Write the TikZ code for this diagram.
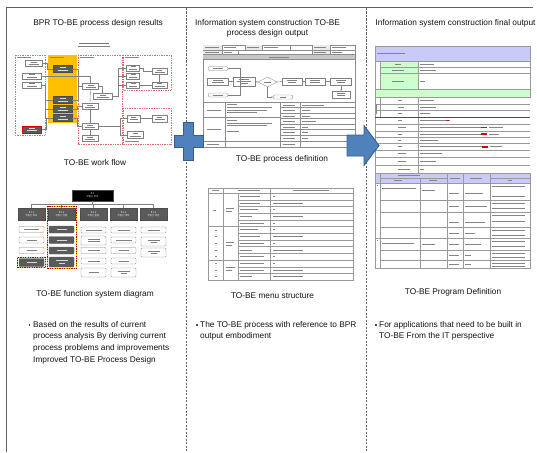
\documentclass[tikz,border=0pt]{standalone}
\usepackage{fontspec}
\setmainfont{Liberation Sans}
\newfontfamily\krfont{Noto Sans CJK KR}
\usetikzlibrary{shapes.geometric,arrows.meta}
\definecolor{bluefill}{HTML}{4F81BD}
\definecolor{blueedge}{HTML}{385D8A}
\definecolor{orng}{HTML}{FFC000}
\definecolor{redd}{HTML}{E46C6C}
\definecolor{darkbox}{HTML}{5A5A5A}
\definecolor{lav}{HTML}{C9C9FA}
\definecolor{mint}{HTML}{CCFFCC}
% a short grey stroke standing for tiny, blurred text inside the thumbnails
\newcommand\tln[2][black!50]{\textcolor{#1}{\rule{#2pt}{0.8pt}}}
\newcommand\tbar[3]{\draw[txt] (#1,#2) -- ++(#3,0);}
\tikzset{
  frameline/.style={draw=black!62, line width=1.4pt},
  divider/.style={draw=black!62, line width=0.6pt, dash pattern=on 2.2pt off 1.3pt},
  captext/.style={font=\fontsize{8.3}{10.8}\selectfont, text=black!92, inner sep=0},
  bodytext/.style={font=\fontsize{8.3}{11.7}\selectfont, text=black!92, align=left, inner sep=0, anchor=north west},
  blueshape/.style={fill=bluefill, draw=blueedge, line width=0.8pt},
  reddash/.style={draw=redd, line width=0.5pt, dash pattern=on 1pt off 0.7pt},
  wb/.style={draw=black!50, fill=white, line width=0.3pt, inner sep=0, minimum height=6pt,
             font=\fontsize{2}{2.3}\selectfont, align=center},
  db/.style={wb, draw=black!70, fill=darkbox, minimum height=7pt},
  wline/.style={draw=black!50, line width=0.35pt},
  flow/.style={wline, -{Stealth[length=1.4pt,width=1.3pt]}},
  hd/.style={fill=darkbox, draw=black!70, text=white, font=\krfont\fontsize{2.4}{2.9}\selectfont,
             align=center, minimum width=27pt, minimum height=12pt, inner sep=0},
  fi/.style={draw=black!50, fill=white, rounded corners=0.8pt, minimum width=25pt, minimum height=6pt,
             inner sep=0, line width=0.35pt, font=\fontsize{2}{2.3}\selectfont, align=center},
  fd/.style={fi, fill=darkbox, draw=black!60},
  thumb/.style={draw=black!45, line width=0.35pt},
  cell/.style={draw=black!40, line width=0.3pt},
  txt/.style={draw=black!48, line width=0.8pt},
  hotdash/.style={draw=red!75!black, line width=1pt, dash pattern=on 1.2pt off 1.2pt},
}
\begin{document}
\begin{tikzpicture}[x=1pt,y=-1pt]
\useasboundingbox (0,0) rectangle (537,452);
\fill[white] (0,0) rectangle (537,452);

% ---------------- frame and column dividers ----------------
\draw[frameline] (6.5,452) -- (6.5,7.5) -- (533,7.5);
\draw[divider] (186.7,8) -- (186.7,452);
\draw[divider] (366.7,8) -- (366.7,452);

% ---------------- column headings ----------------
\node[captext] (t1) at (98,23) {BPR TO-BE process design results};
\node[captext, align=center] (t2) at (267.5,28.4) {Information system construction TO-BE\\process design output};
\node[captext] (t3) at (455.5,23) {Information system construction final output};

% ---------------- workflow thumbnail ----------------
\node[inner sep=0] (wft) at (94,43) {\tln[black!55]{30}};
\draw[wline] (78,46) -- (110,46);
\draw[reddash] (15,55) rectangle (45,135);
\fill[orng] (48,55) rectangle (77,123);
\draw[reddash] (78,55) rectangle (122,144);
\draw[reddash] (123,55) rectangle (171,90);
\draw[reddash] (123,108) rectangle (171,144);
\tbar{17}{57.5}{14} \tbar{50}{57.5}{14} \tbar{80}{57.5}{14} \tbar{125}{57.5}{14} \tbar{125}{141.5}{14}

\node[wb, minimum width=17] (a1) at (33.5,63.5) {\tln{6}\\\tln{10}};
\node[wb, minimum width=19] (a2) at (31.5,76) {\tln{6}\\\tln{10}};
\node[wb, minimum width=19] (a3) at (31.5,85) {\tln{6}\\\tln{10}};
\node[db, draw=red!85!black, line width=0.7pt, minimum width=19] (a4) at (32,129.5) {\tln[black!15]{6}\\\tln[black!15]{10}};
\node[db, minimum width=19] (b1) at (62.5,69) {\tln[black!15]{6}\\\tln[black!15]{10}};
\node[db, minimum width=19] (b2) at (62.5,100) {\tln[black!15]{6}\\\tln[black!15]{10}};
\node[db, minimum width=19] (b3) at (62.5,109) {\tln[black!15]{6}\\\tln[black!15]{10}};
\node[db, minimum width=19] (b4) at (62.5,118) {\tln[black!15]{6}\\\tln[black!15]{10}};
\node[wb, minimum width=16] (c1) at (90.5,86.5) {\tln{6}\\\tln{10}};
\node[wb, minimum width=19] (c2) at (102.5,96.5) {\tln{6}\\\tln{12}};
\node[wb, minimum width=16] (c3) at (90,106.5) {\tln{6}\\\tln{10}};
\node[wb, minimum width=16] (c4) at (90,126.5) {\tln{6}\\\tln{10}};
\node[wb, minimum width=16] (c5) at (90,138.5) {\tln{6}\\\tln{10}};
\node[wb, minimum width=13] (d1) at (133,68) {\tln{5}\\\tln{8}};
\node[wb, minimum width=13] (d2) at (133,76) {\tln{5}\\\tln{8}};
\node[wb, minimum width=13] (d3) at (133,85) {\tln{5}\\\tln{8}};
\node[wb, minimum width=15] (d4) at (159.5,71.5) {\tln{5}\\\tln{10}};
\node[wb, minimum width=15] (d5) at (159.5,85) {\tln{5}\\\tln{10}};
\node[wb, minimum width=13, minimum height=7] (e1) at (133.5,118.5) {\tln{5}\\\tln{8}};
\node[wb, minimum width=15, minimum height=7] (e2) at (159.5,118.5) {\tln{5}\\\tln{10}};
\node[wb, minimum width=16, minimum height=7] (e3) at (135,135) {\tln{5}\\\tln{11}};

\draw[wline] (a1.east) -- ++(5,0) |- (b1.west);
\draw[wline] (a2.east) -| (c1.north);
\draw[wline] (a3.east) -- ++(4,0) |- (b2.west);
\draw[wline] (a3.east) ++(4,0) |- (b3.west);
\draw[wline] (a3.east) ++(4,0) |- (b4.west);
\draw[wline] (a4.east) -- ++(4,0) |- (b4.west);
\draw[wline] (b1.east) -- ++(6,0) |- (c1.west);
\draw[wline] (b2.east) -- ++(6,0) |- (c1.west);
\draw[wline] (b3.east) -- ++(5,0) |- (c3.west);
\draw[wline] (b4.east) -- ++(5,0) |- (c4.west);
\draw[wline] (c1.east) -| (c2.north);
\draw[wline] (c1.south) -- (c3.north);
\draw[wline] (c3.south) -- (c4.north);
\draw[wline] (c4.south) -- (c5.north);
\draw[wline] (c2.east) -- ++(6,0) |- (d1.west);
\draw[wline] (c2.east) ++(6,0) |- (d2.west);
\draw[wline] (c2.east) ++(6,0) |- (d3.west);
\draw[wline] (d1.east) -- ++(4,0) |- (d4.west);
\draw[wline] (d3.east) -- (d5.west);
\draw[wline] (d4.south) -- (d5.north);
\draw[wline] (c4.east) -- ++(22,0) |- (e1.west);
\draw[wline] (c4.east) ++(22,0) |- (e3.west);
\draw[wline] (e1.east) -- (e2.west);

\node[captext] (c1cap) at (95,163) {TO-BE work flow};

% ---------------- function system diagram thumbnail ----------------
\node[hd, fill=black, minimum width=41, minimum height=11] (p1) at (92.5,195.5) {P.1\\부동산 관리};
\node[hd] (h1) at (31.5,214) {P.1.1\\부동산 취득};
\node[hd] (h2) at (61.5,214) {P.1.2\\부동산 현황};
\node[hd] (h3) at (93.5,214) {P.1.3\\부동산 활용};
\node[hd] (h4) at (123.5,214) {P.1.4\\부동산 대부};
\node[hd] (h5) at (153.5,214) {P.1.5\\부동산 처분};
\draw[wline] (p1.south) -- ++(0,3.5);
\draw[wline] (h1.north) -- ++(0,-4) -| (h5.north);
\foreach \h in {h2,h3,h4} \draw[wline] (\h.north) -- ++(0,-4);

\node[fi] (f11) at (31.5,229.5) {\tln{15}};
\node[fi] (f12) at (31.5,240) {\tln{10}};
\node[fi] (f13) at (31.5,250.5) {\tln{10}};
\node[fd, minimum height=8] (f14) at (31.5,262.5) {\tln[black!15]{10}};
\draw[orng, line width=1pt] (17.5,257.5) rectangle (45.5,267.5);
\draw[hotdash] (17.5,257.5) rectangle (45.5,267.5);

\node[fd, minimum height=7] (f21) at (61.5,229.5) {\tln[black!15]{10}};
\node[fd, minimum height=7] (f22) at (61.5,240) {\tln[black!15]{10}};
\node[fd, minimum height=7] (f23) at (61.5,250.5) {\tln[black!15]{10}};
\node[fd, minimum height=10] (f24) at (61.5,262) {\tln[black!15]{12}\\\tln[black!15]{6}};
\draw[orng, line width=1pt] (47.5,206) rectangle (76.5,268.5);
\draw[hotdash] (47.5,206) rectangle (76.5,268.5);

\node[fi] (f31) at (93.5,230) {\tln{16}};
\node[fi, minimum height=9] (f32) at (93.5,240.5) {\tln{12}\\\tln{12}};
\node[fi] (f33) at (93.5,250.5) {\tln{12}};
\node[fi] (f34) at (93.5,261) {\tln{12}};
\node[fi, minimum height=9] (f35) at (93.5,272.5) {\tln{10}};

\node[fi] (f41) at (123.5,230) {\tln{12}};
\node[fi] (f42) at (123.5,240) {\tln{16}};
\node[fi] (f43) at (123.5,250.5) {\tln{10}};
\node[fi] (f44) at (123.5,261) {\tln{10}};
\node[fi, minimum height=9] (f45) at (123.5,272.5) {\tln{12}\\\tln{6}};

\node[fi] (f51) at (153.5,230) {\tln{12}};
\node[fi, minimum height=9] (f52) at (153.5,241.5) {\tln{12}\\\tln{6}};
\node[fi, minimum height=9] (f53) at (153.5,252.5) {\tln{12}\\\tln{6}};

\node[captext] (c2cap) at (95,294) {TO-BE function system diagram};

% ---------------- process definition thumbnail ----------------
\draw[thumb, fill=white] (203,45) rectangle (355,147);
\fill[black!8] (203,45) rectangle (222,54.5);
\fill[black!8] (245,45) rectangle (262,49.7);
\fill[black!8] (312,45) rectangle (330,54.5);
\draw[thumb] (203,49.7) -- (355,49.7);
\foreach \x in {222,245,262,290,312,330} \draw[thumb] (\x,45) -- (\x,49.7);
\foreach \x in {222,238,312,330} \draw[thumb] (\x,49.7) -- (\x,54.5);
\tbar{205}{47.4}{14} \tbar{224}{47.4}{12} \tbar{247}{47.4}{12} \tbar{264}{47.4}{14}
\tbar{314}{47.4}{12} \tbar{332}{47.4}{14}
\tbar{205}{52.1}{14} \tbar{224}{52.1}{8} \tbar{314}{52.1}{12} \tbar{332}{52.1}{10}
\fill[black!22] (203,54.5) rectangle (355,59.5);
\draw[thumb] (203,54.5) -- (355,54.5) (203,59.5) -- (355,59.5);
\tbar{269}{57}{20}

\node[wb, rounded corners=2.2pt, minimum width=20, minimum height=4.5] (s1) at (218,68.5) {\tln{10}};
\node[wb, minimum width=21, minimum height=7] (s2) at (217.5,81.5) {\tln{10}\\\tln{12}};
\node[wb, rounded corners=2pt, minimum width=20, minimum height=4] (s3) at (218,95) {\tln{10}};
\node[wb, minimum width=22, minimum height=9] (s4) at (244,81.5) {\tln{10}\\\tln{14}\\\tln{8}};
\node[diamond, draw=black!50, fill=white, line width=0.3pt, inner sep=0, minimum width=19, minimum height=10, font=\fontsize{2}{2.3}\selectfont] (s5) at (267.5,82) {\tln{7}};
\node[wb, rounded corners=2pt, minimum width=20, minimum height=4] (s6) at (283,97) {\tln{6}};
\node[wb, minimum width=20, minimum height=7] (s7) at (292,81.5) {\tln{10}\\\tln{8}};
\node[wb, minimum width=20, minimum height=7] (s8) at (315,81.5) {\tln{10}\\\tln{10}};
\node[wb, minimum width=21, minimum height=7] (s9) at (341,81.5) {\tln{10}\\\tln{8}};
\node[wb, minimum width=18, minimum height=7] (s10) at (341,94.5) {\tln{8}\\\tln{8}};
\draw[wline] (s1.east) -- ++(12,0) coordinate (sj) -- (sj |- s3.east) -- (s3.east);
\draw[flow] (s2.east) -- (s4.west);
\draw[flow] (s4.east) -- (s5.west);
\draw[flow] (s5.east) -- (s7.west);
\draw[flow] (s5.south) |- (s6.west);
\draw[flow] (s7.east) -- (s8.west);
\draw[flow] (s8.east) -- (s9.west);
\draw[flow] (s9.south) -- (s10.north);

\draw[thumb] (203,102) -- (355,102);
\draw[thumb] (225,102) -- (225,147) (280,102) -- (280,147) (300,102) -- (300,147);
\draw[thumb] (203,117) -- (280,117) (203,141) -- (280,141);
\foreach \y in {107.5,113,118.5,124,129.5,135,141} \draw[thumb] (280,\y) -- (355,\y);
\tbar{207}{110}{14} \tbar{207}{129}{14} \tbar{207}{144}{12}
\tbar{227}{104.5}{10} \tbar{227}{107.5}{45} \tbar{227}{110}{40} \tbar{227}{112.5}{30}
\tbar{227}{120}{10} \tbar{227}{123}{45} \tbar{227}{125.5}{40} \tbar{227}{131}{12}
\foreach \y in {105,110.5,116,121.5,127,132.5,138,144} {\tbar{283}{\y}{12}}
\foreach \y/\w in {105/22,110.5/8,116/8,121.5/14,127/6,132.5/6,138/6} {\tbar{302}{\y}{\w}}

\node[captext] (c3cap) at (282,159) {TO-BE process definition};

% ---------------- menu structure thumbnail ----------------
\draw[cell] (208,188) rectangle (353,280);
\draw[cell] (223,188) -- (223,280);
\foreach \x in {238,270} \draw[cell] (\x,193) -- (\x,280);
\draw[cell] (270,188) -- (270,193);
\foreach \y in {193,226.5,260} \draw[cell] (208,\y) -- (353,\y);
\foreach \y in {199.7,206.4,213.1,219.8,233.2,239.9,246.6,253.3,266.7,273.3} \draw[cell] (238,\y) -- (353,\y);
\tbar{212}{190.5}{7} \tbar{238}{190.5}{22} \tbar{293}{190.5}{36}
\foreach \y/\w in {196.3/20,203/20,209.7/18,216.4/12,223.1/24,229.8/18,236.5/20,243.2/24,249.9/12,256.6/24,263.3/24,270/24,276.7/12}
  {\tbar{240}{\y}{\w}}
\foreach \y in {196.3,209.7,223.1,229.8,243.2,256.6,263.3} {\draw[txt] (273,\y) -- ++(2,0);}
\foreach \y in {203,216.4,236.5,249.9,270,276.7} {\tbar{273}{\y}{30}}
\tbar{226}{208.5}{8} \tbar{226}{211.5}{6}
\tbar{226}{242}{8} \tbar{226}{245}{6}
\tbar{226}{267}{9} \tbar{226}{270}{6}
\tbar{213}{210}{3}
\foreach \y in {230,236.5,243.2,249.9,256.6} {\draw[txt] (215,\y) -- ++(1.5,0);}
\foreach \y in {263.3,270,276.7} {\draw[txt] (215,\y) -- ++(1.5,0);}

\node[captext] (c4cap) at (272.5,295.5) {TO-BE menu structure};

% ---------------- program definition thumbnail ----------------
\fill[lav] (375,46) rectangle (530,61);
\draw[cell] (375,46) rectangle (530,61);
\tbar{377}{53.5}{28}
\fill[mint] (380,61) rectangle (418,89.5);
\fill[mint] (375,89.5) rectangle (530,97);
\draw[cell] (380,61) rectangle (530,89.5);
\draw[cell] (418,61) -- (418,89.5);
\draw[cell] (380,67.5) -- (530,67.5) (380,73.5) -- (530,73.5);
\draw[cell] (375,89.5) rectangle (530,97);
\draw[cell] (375,61) -- (375,89.5);
\tbar{395}{64.3}{6} \tbar{392}{70.5}{12} \tbar{392}{81.5}{12}
\tbar{420}{64.3}{14} \tbar{420}{70.5}{16} \tbar{420}{81.5}{5}

\draw[cell] (375,97) -- (375,268);
\draw[cell] (380,97) -- (380,117);
\draw[cell] (418,97) -- (418,173);
\foreach \y in {104,110.5,124,131,137,143.5,150,157,165,173} \draw[cell] (375,\y) -- (530,\y);
\draw[black!70, line width=0.6pt] (375,117) -- (530,117);
\foreach \y/\w in {100.5/4,107.2/6,113.7/4,120.5/4,127.5/8,134/4,140.2/3,146.7/4,153.5/8,161/8,169/12}
  {\tbar{398}{\y}{\w}}
\foreach \y/\w in {100.5/14,107.2/16,113.7/10,120.5/30,127.5/62,134/62,140.2/18,146.7/62,153.5/22,161/16}
  {\tbar{420}{\y}{\w}}
\draw[red!85!black, line width=1.6pt] (446,120.5) -- ++(3,0);
\draw[red!85!black, line width=1.8pt] (481,127.5) -- ++(6,0);
\draw[red!85!black, line width=1.8pt] (481,134) -- ++(6,0);
\draw[red!85!black, line width=1.8pt] (482,146.7) -- ++(6,0);
\tbar{489}{127.5}{14} \tbar{489}{134}{10} \tbar{490}{146.7}{12}
\tbar{420}{169}{4}
\draw[txt] (376.5,104) -- (376.5,114);

\fill[lav] (375,173) rectangle (530,183);
\draw[cell] (375,173) rectangle (530,268);
\foreach \x in {380,447,463,490} \draw[cell] (\x,173) -- (\x,268);
\draw[cell] (420,178) -- (420,268);
\draw[cell] (380,178) -- (447,178) (490,178) -- (530,178);
\draw[cell] (375,183) -- (530,183) (375,238) -- (380,238);
\foreach \y in {200,212,227,238,250,260} \draw[cell] (380,\y) -- (530,\y);
\tbar{398}{175.5}{22} \tbar{394}{180.5}{8} \tbar{429}{180.5}{8}
\tbar{450}{178}{10} \tbar{470}{178}{12} \tbar{508}{180.5}{4}
\tbar{382}{188}{34} \tbar{422}{190}{13}
\tbar{382}{243}{32} \tbar{422}{244}{13}
\draw[txt] (376.5,185) -- ++(1.5,0) (376.5,240) -- ++(1.5,0);
\foreach \y in {193,206,222,233,244,255,264} {\tbar{449}{\y}{10}}
\foreach \y/\w in {193/18,206/22,222/20,233/10,244/16,255/6,264/6} {\tbar{465}{\y}{\w}}
\foreach \y in {186,196.5,203,208,215,221,230,235,241,246,253,257,263,266} {\tbar{492}{\y}{33}}

\node[captext] (c5cap) at (453,292) {TO-BE Program Definition};

% ---------------- notes under each column ----------------
\fill[black!70] (28.5,324.2) rectangle ++(1.7,1.7);
\node[bodytext] (n1) at (33,321) {Based on the results of current\\process analysis By deriving current\\process problems and improvements\\Improved TO-BE Process Design};
\fill[black!70] (196,324.2) rectangle ++(1.7,1.7);
\node[bodytext] (n2) at (200,321) {The TO-BE process with reference to BPR\\output embodiment};
\fill[black!70] (375,324.2) rectangle ++(1.7,1.7);
\node[bodytext] (n3) at (379,321) {For applications that need to be built in\\TO-BE From the IT perspective};

% ---------------- blue plus and arrow between the columns ----------------
\draw[blueshape] (183,122) -- (193,122) -- (193,135) -- (203,135) -- (203,147) -- (193,147)
  -- (193,160) -- (183,160) -- (183,147) -- (174,147) -- (174,135) -- (183,135) -- cycle;
\draw[blueshape] (347,135) -- (364,135) -- (364,125.5) -- (379,145.5) -- (364,165.5)
  -- (364,156) -- (347,156) -- cycle;
\end{tikzpicture}
\end{document}
